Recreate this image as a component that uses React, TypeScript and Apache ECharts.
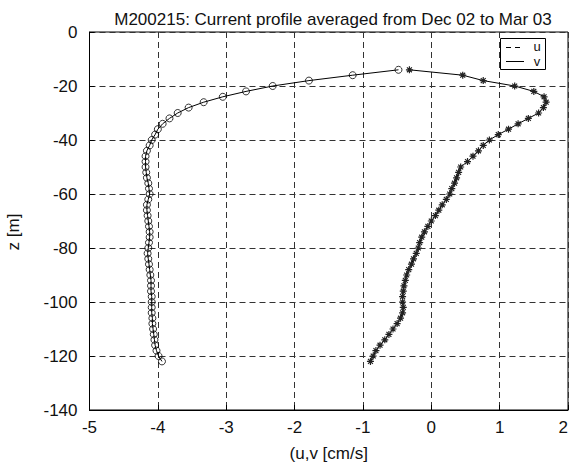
import React, { useEffect, useRef } from "react";
import * as echarts from "echarts";

const titleText = "M200215: Current profile averaged from Dec 02 to Mar 03";
const xName = "(u,v [cm/s]";
const yName = "z [m]";
const legendNames = ["u", "v"];

const depths = [
  -14, -16, -18, -20, -22, -24, -26, -28, -30, -32, -34, -36, -38, -40,
  -42, -44, -46, -48, -50, -52, -54, -56, -58, -60, -62, -64, -66, -68,
  -70, -72, -74, -76, -78, -80, -82, -84, -86, -88, -90, -92, -94, -96,
  -98, -100, -102, -104, -106, -108, -110, -112, -114, -116, -118, -120, -122,
];

const uValues = [
  -0.48, -1.15, -1.79, -2.32, -2.71, -3.05, -3.33, -3.55, -3.71, -3.83, -3.93, -4.0, -4.04, -4.09,
  -4.12, -4.16, -4.18, -4.18, -4.18, -4.17, -4.16, -4.14, -4.13, -4.12, -4.14, -4.16, -4.16, -4.15,
  -4.14, -4.13, -4.12, -4.12, -4.13, -4.14, -4.15, -4.14, -4.13, -4.12, -4.11, -4.1, -4.1, -4.1,
  -4.09, -4.09, -4.09, -4.09, -4.08, -4.08, -4.07, -4.06, -4.05, -4.04, -4.02, -3.99, -3.94,
];

const vValues = [
  -0.32, 0.46, 0.76, 1.22, 1.5, 1.65, 1.68, 1.64, 1.57, 1.42, 1.27, 1.13, 0.98, 0.85,
  0.76, 0.69, 0.61, 0.53, 0.43, 0.4, 0.37, 0.34, 0.3, 0.27, 0.22, 0.16, 0.11, 0.06,
  0.0, -0.05, -0.1, -0.14, -0.17, -0.19, -0.22, -0.26, -0.29, -0.33, -0.36, -0.38, -0.4, -0.41,
  -0.42, -0.42, -0.41, -0.42, -0.45, -0.5, -0.56, -0.62, -0.68, -0.75, -0.81, -0.85, -0.89,
];

const FONT = "'Liberation Sans', Arial, sans-serif";
const STAR = "path://M0,-10L0,10M-10,0L10,0M-7,-7L7,7M-7,7L7,-7";

export default function App() {
  const ref = useRef<HTMLDivElement>(null);
  useEffect(() => {
    if (!ref.current) return;
    const chart = echarts.init(ref.current, undefined, { renderer: "svg" });
    const uData = depths.map((d, i) => [uValues[i], d]);
    const vData = depths.map((d, i) => [vValues[i], d]);
    chart.setOption({
      animation: false,
      backgroundColor: "#fff",
      textStyle: { fontFamily: FONT },
      title: {
        text: titleText,
        left: 328,
        top: 6,
        textAlign: "center",
        textStyle: { fontFamily: FONT, fontSize: 17, fontWeight: "normal", color: "#111" },
      },
      grid: {
        left: 89.5,
        right: 2,
        top: 32,
        bottom: 56,
        show: true,
        borderColor: "#000",
        borderWidth: 1,
        backgroundColor: "transparent",
        containLabel: false,
        outerBoundsMode: "none",
      },
      xAxis: {
        type: "value",
        min: -5,
        max: 2,
        interval: 1,
        name: xName,
        nameLocation: "middle",
        nameGap: 35,
        nameTextStyle: { fontFamily: FONT, fontSize: 17, color: "#111" },
        axisLine: { show: true, onZero: false, lineStyle: { color: "#000", width: 1 } },
        axisTick: { show: true, inside: true, length: 5, lineStyle: { color: "#000" } },
        axisLabel: { fontFamily: FONT, fontSize: 17, color: "#111", margin: 9, alignMaxLabel: "right" },
        splitLine: { show: true, lineStyle: { color: "#333", width: 1, type: [6, 4] } },
      },
      yAxis: {
        type: "value",
        min: -140,
        max: 0,
        interval: 20,
        name: yName,
        nameLocation: "middle",
        nameGap: 68,
        nameTextStyle: { fontFamily: FONT, fontSize: 17, color: "#111", padding: [0, 22, 0, 0] },
        axisLine: { show: true, onZero: false, lineStyle: { color: "#000", width: 1 } },
        axisTick: { show: true, inside: true, length: 5, lineStyle: { color: "#000" } },
        axisLabel: { fontFamily: FONT, fontSize: 17, color: "#111", margin: 12 },
        splitLine: { show: true, lineStyle: { color: "#333", width: 1, type: [6, 4] } },
      },
      series: [
        {
          name: legendNames[0],
          type: "line",
          data: uData,
          symbol: "circle",
          symbolSize: 7,
          showAllSymbol: true,
          lineStyle: { color: "#000", width: 1 },
          itemStyle: { color: "rgba(0,0,0,0)", borderColor: "#000", borderWidth: 0.8 },
        },
        {
          name: legendNames[1],
          type: "line",
          data: vData,
          symbol: STAR,
          symbolSize: 7,
          symbolKeepAspect: true,
          showAllSymbol: true,
          lineStyle: { color: "#000", width: 1 },
          itemStyle: { color: "rgba(0,0,0,0)", borderColor: "#222", borderWidth: 1.2 },
        },
      ],
      graphic: [
        {
          type: "group",
          z: 100,
          children: [
            {
              type: "rect",
              shape: { x: 500.5, y: 38.5, width: 45, height: 31 },
              style: { fill: "#fff", stroke: "#000", lineWidth: 1 },
            },
            {
              type: "line",
              shape: { x1: 506, y1: 47.5, x2: 523, y2: 47.5 },
              style: { stroke: "#000", lineWidth: 1, lineDash: [5, 4] },
            },
            {
              type: "text",
              x: 537,
              y: 46.5,
              style: {
                text: legendNames[0],
                fill: "#111",
                font: `13px ${FONT}`,
                lineHeight: 12,
                textAlign: "center",
                textVerticalAlign: "middle",
              },
            },
            {
              type: "line",
              shape: { x1: 506, y1: 61.5, x2: 524, y2: 61.5 },
              style: { stroke: "#000", lineWidth: 1 },
            },
            {
              type: "text",
              x: 537,
              y: 61,
              style: {
                text: legendNames[1],
                fill: "#111",
                font: `13px ${FONT}`,
                lineHeight: 12,
                textAlign: "center",
                textVerticalAlign: "middle",
              },
            },
          ],
        },
      ],
    });
    return () => chart.dispose();
  }, []);
  return (
    <div
      ref={ref}
      style={{ position: "fixed", left: 0, top: 0, width: 570, height: 466, background: "#fff" }}
    />
  );
}
